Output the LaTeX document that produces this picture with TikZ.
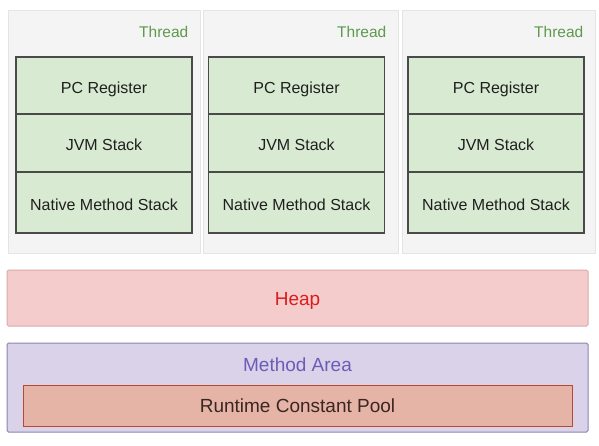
\documentclass[tikz,border=0pt]{standalone}
\usepackage{fontspec}
\setmainfont{Liberation Sans}

\definecolor{threadfill}{HTML}{F4F4F4}
\definecolor{threadline}{HTML}{E4E4E4}
\definecolor{threadtext}{HTML}{5E9A4C}
\definecolor{stackfill}{HTML}{D9EAD3}
\definecolor{stackline}{HTML}{4A4A4A}
\definecolor{heapfill}{HTML}{F4CCCC}
\definecolor{heapline}{HTML}{DDA8A8}
\definecolor{heaptext}{HTML}{D81E1E}
\definecolor{methodfill}{HTML}{D9D2E9}
\definecolor{methodline}{HTML}{8A84AE}
\definecolor{methodtext}{HTML}{6B5CB8}
\definecolor{poolfill}{HTML}{E6B4A6}
\definecolor{poolline}{HTML}{B8482E}
\definecolor{pooltext}{HTML}{3A2622}

\tikzset{
  threadbox/.style={draw=threadline, fill=threadfill, line width=0.8pt,
    minimum height=243pt, inner sep=0pt},
  threadlabel/.style={anchor=east, text=threadtext, font=\fontsize{15.5}{18}\selectfont, inner sep=0pt},
  stackrow/.style={draw=stackline, fill=stackfill, line width=1.2pt,
    minimum width=176pt, inner sep=0pt, text=black!88, text height=15pt, text depth=0pt,
    font=\fontsize{16}{19}\selectfont},
  areabox/.style={rounded corners=1.5pt, line width=1pt, inner sep=0pt,
    text height=14pt, text depth=0pt, font=\fontsize{19}{22}\selectfont}
}

\begin{document}
\begin{tikzpicture}[x=1pt, y=-1pt]
    \useasboundingbox (0,0) rectangle (599,445);

    % Ba khoi Thread, moi khoi co ba ngan
    \foreach \i/\x/\w/\s in {1/104/192/104, 2/300.5/195/296.5, 3/498.5/193/496} {
        \node[threadbox, minimum width=\w pt] (thread\i) at (\x, 131.5) {};
        \node[threadlabel] (label\i) at (\x+\w/2-11.5, 31.5) {Thread};
        \node[stackrow, minimum height=57pt] (pc\i) at (\s, 85.5) {PC Register};
        \node[stackrow, minimum height=58pt] (jvm\i) at (\s, 143) {JVM Stack};
        \node[stackrow, minimum height=61pt] (native\i) at (\s, 202.5) {Native Method Stack};
    }

    % Heap
    \node[areabox, draw=heapline, fill=heapfill, text=heaptext,
          minimum width=581pt, minimum height=56pt] (heap) at (297.5, 298) {Heap};

    % Method Area va Runtime Constant Pool
    \node[areabox, draw=methodline, fill=methodfill,
          minimum width=581pt, minimum height=89pt] (method) at (297.5, 387.5) {};
    \node[anchor=center, text=methodtext, font=\fontsize{19}{22}\selectfont, inner sep=0pt]
          (methodlabel) at (297.5, 364.5) {Method Area};
    \node[areabox, rounded corners=0pt, draw=poolline, fill=poolfill, text=pooltext,
          minimum width=549pt, minimum height=41pt] (pool) at (297.5, 405.5) {Runtime Constant Pool};

\end{tikzpicture}
\end{document}
